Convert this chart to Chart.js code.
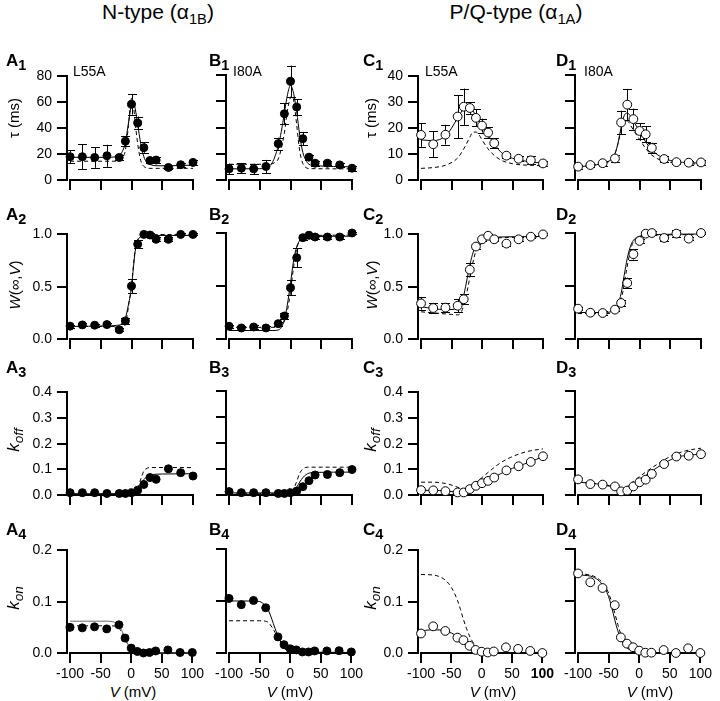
<!DOCTYPE html>
<html><head><meta charset="utf-8">
<script src="https://cdn.jsdelivr.net/npm/chart.js@4.4.0/dist/chart.umd.min.js"></script>
<style>
body{margin:0;background:#fff;width:720px;height:701px;position:relative;overflow:hidden;font-family:"Liberation Sans",Arial,sans-serif;color:#000}
canvas{position:absolute}
.t{position:absolute;line-height:1;white-space:nowrap}
.t sub{line-height:0}
</style></head><body>
<script>
// ---------- data ----------
const V_N  = [-100,-80,-60,-40,-20,-10,0,10,20,30,40,60,80,100];
const V_PQ = [-100,-80,-60,-40,-30,-20,-10,0,10,20,40,60,80,100];
const X_TICKS = [-100,-50,0,50,100];

// Row 1: tau (ms)
const A1_tau = [18,18,17.4,18.7,17.4,30,58.5,44,25,15,15.4,9.7,11.8,13.6];
const A1_err = [5,9.5,8,8.5,2,4,8,5,4,2,2,1,1.5,2];
const A1_fit = [[-100,17.5],[-40,17.5],[-25,18],[-15,22],[-10,29],[-5,44],[0,58],[3,60],[6,55],[10,43],[15,28],[20,18],[25,13.5],[30,12],[40,11],[60,11],[100,11.5]];
const A1_dash = [[-100,14.5],[-30,14.5],[-20,15],[-15,17],[-10,23],[-5,42],[-2,58],[0,63],[3,58],[6,44],[10,28],[15,15],[20,10.5],[30,9],[100,9]];

const B1_tau = [8.5,9,8.5,10.3,27.7,50.5,75.2,55.6,31.5,17.4,12.8,12.8,11.5,9];
const B1_err = [4,4,4,5,4.5,8,12,6,5,2,2,1.5,1.5,2];
const B1_fit = [[-100,8.5],[-50,8.6],[-40,9.5],[-30,13],[-20,26],[-15,37],[-10,51],[-5,65],[0,72],[5,66],[10,52],[15,34],[20,21],[25,15],[30,12],[40,11],[100,10]];
const B1_dash = [[-100,12],[-35,12],[-25,13.5],[-20,16],[-15,24],[-10,36],[-5,53],[0,63],[3,64],[6,58],[10,42],[15,22],[20,12.5],[25,9.5],[30,8.7],[100,8.5]];

const C1_tau = [17.4,13.8,17.5,24.5,28.3,27.8,24,21,18.3,14.2,9.4,8.2,7.6,6.4];
const C1_err = [4.6,5,3.8,8.3,7,2.3,3.3,2.7,2,2,1,1,1.5,1];
const C1_fit = [[-100,15.5],[-80,15.2],[-70,15.6],[-60,17],[-50,20],[-40,24],[-30,27.5],[-25,28.5],[-20,28],[-10,25],[0,21],[10,17.3],[20,14],[30,11],[40,9.3],[60,7.8],[80,7],[100,6.5]];
const C1_dash = [[-100,4.5],[-80,4.8],[-60,5.7],[-40,8.5],[-30,12],[-20,16.5],[-15,18.5],[-10,18.5],[-5,17.5],[0,15.5],[10,12],[20,9.5],[30,7.8],[50,6.3],[100,5.5]];

const D1_tau = [5.1,5.7,6.4,8.2,21.9,28.7,23.2,18.7,17.4,12.2,8,6.8,6.6,6.7];
const D1_err = [0.8,0.8,1,1.5,4.5,6,4,3,3,2,1,0.8,0.8,0.8];
const D1_fit = [[-100,5],[-80,5.5],[-60,6.3],[-50,7.2],[-45,8],[-40,10],[-35,14],[-30,20],[-25,24.5],[-20,25.5],[-15,24.5],[-10,22.5],[0,18.5],[10,14.5],[20,11.5],[30,9.5],[40,8.2],[60,7],[80,6.6],[100,6.5]];
const D1_dash = [[-100,5],[-80,5.5],[-60,6.2],[-50,7],[-45,8],[-40,10],[-35,14],[-30,19],[-25,22],[-20,22.5],[-15,21],[-10,19],[0,15.5],[10,12],[20,9.5],[30,8],[40,7.2],[60,6.5],[100,6]];

// Row 2: W(inf,V)
const A2_w = [0.123,0.135,0.132,0.138,0.088,0.173,0.506,0.906,1.0,0.994,0.953,0.953,1.0,1.0];
const A2_err = [0.015,0.015,0.015,0.015,0.015,0.03,0.07,0.04,0.015,0.015,0.02,0.02,0.01,0.01];
const A2_fit = [[-100,0.12],[-40,0.125],[-25,0.13],[-15,0.15],[-10,0.2],[-5,0.33],[0,0.5],[3,0.68],[6,0.84],[10,0.94],[15,0.98],[20,0.99],[100,0.99]];
const A2_dash = [[-100,0.12],[-30,0.12],[-20,0.1],[-12,0.12],[-8,0.2],[-4,0.35],[0,0.5],[3,0.7],[6,0.86],[10,0.95],[15,0.985],[20,0.995],[100,1.0]];

const B2_w = [0.12,0.104,0.113,0.104,0.145,0.217,0.484,0.767,0.956,0.978,0.962,0.962,0.962,1.0];
const B2_err = [0.015,0.015,0.02,0.02,0.02,0.03,0.07,0.09,0.02,0.015,0.015,0.015,0.015,0.01];
const B2_fit = [[-100,0.08],[-30,0.08],[-20,0.085],[-15,0.11],[-10,0.18],[-5,0.33],[0,0.53],[5,0.74],[10,0.87],[15,0.93],[20,0.955],[30,0.965],[100,0.97]];
const B2_dash = [[-100,0.11],[-30,0.11],[-20,0.115],[-15,0.13],[-10,0.17],[-5,0.27],[0,0.45],[5,0.68],[10,0.85],[15,0.93],[20,0.965],[30,0.975],[100,0.98]];

const C2_w = [0.34,0.296,0.30,0.318,0.38,0.663,0.884,0.953,0.987,0.953,0.912,0.953,0.978,1.0];
const C2_err = [0.06,0.05,0.04,0.06,0.05,0.06,0.02,0.02,0.015,0.02,0.02,0.02,0.015,0.01];
const C2_fit = [[-100,0.31],[-80,0.29],[-60,0.28],[-45,0.285],[-38,0.31],[-32,0.37],[-27,0.5],[-22,0.65],[-17,0.78],[-12,0.87],[-6,0.93],[0,0.955],[10,0.97],[100,0.98]];
const C2_dash = [[-100,0.26],[-70,0.245],[-50,0.235],[-40,0.23],[-34,0.26],[-28,0.36],[-23,0.5],[-18,0.65],[-13,0.78],[-8,0.88],[-2,0.93],[5,0.955],[20,0.965],[100,0.975]];

const D2_w = [0.286,0.248,0.245,0.277,0.34,0.528,0.8,0.925,0.994,1.0,0.953,0.994,0.947,1.0];
const D2_err = [0.015,0.015,0.015,0.015,0.03,0.05,0.05,0.02,0.015,0.015,0.03,0.03,0.015,0.01];
const D2_fit = [[-100,0.25],[-60,0.25],[-45,0.26],[-40,0.28],[-35,0.33],[-30,0.43],[-25,0.6],[-20,0.76],[-15,0.87],[-10,0.93],[0,0.97],[20,0.985],[100,0.99]];
const D2_dash = [[-100,0.24],[-60,0.24],[-45,0.245],[-38,0.27],[-32,0.33],[-27,0.45],[-22,0.62],[-17,0.78],[-12,0.89],[-6,0.94],[5,0.97],[20,0.98],[100,0.985]];

// Row 3: k_off
const A3_k = [0.009,0.009,0.009,0.006,0.006,0.006,0.009,0.019,0.041,0.068,0.061,0.102,0.087,0.074];
const A3_fit = [[-100,0.005],[-10,0.005],[0,0.007],[5,0.012],[10,0.024],[15,0.043],[20,0.06],[25,0.071],[30,0.077],[40,0.081],[60,0.082],[100,0.083]];
const A3_dash = [[-100,0.003],[0,0.004],[5,0.008],[10,0.025],[15,0.062],[20,0.093],[25,0.104],[30,0.107],[100,0.107]];

const B3_k = [0.013,0.009,0.009,0.009,0.006,0.006,0.009,0.015,0.032,0.055,0.077,0.079,0.086,0.098];
const B3_fit = [[-100,0.008],[-10,0.008],[0,0.01],[5,0.016],[10,0.03],[15,0.05],[20,0.067],[25,0.078],[30,0.084],[40,0.087],[100,0.088]];
const B3_dash = [[-100,0.005],[-5,0.005],[0,0.008],[5,0.022],[10,0.052],[15,0.084],[20,0.1],[25,0.106],[30,0.107],[100,0.107]];

const C3_k = [0.019,0.018,0.015,0.01,0.01,0.023,0.036,0.046,0.055,0.068,0.096,0.112,0.129,0.151];
const C3_fit = [[-100,0.018],[-80,0.018],[-60,0.016],[-45,0.012],[-35,0.01],[-28,0.012],[-20,0.02],[-10,0.033],[0,0.045],[10,0.057],[20,0.07],[40,0.094],[60,0.113],[80,0.13],[100,0.15]];
const C3_dash = [[-100,0.05],[-80,0.05],[-60,0.045],[-45,0.035],[-35,0.026],[-28,0.024],[-20,0.03],[-10,0.048],[0,0.068],[10,0.088],[30,0.125],[50,0.15],[75,0.17],[100,0.18]];

const D3_k = [0.06,0.042,0.04,0.033,0.014,0.017,0.033,0.049,0.059,0.081,0.119,0.148,0.151,0.157];
const D3_fit = [[-100,0.05],[-80,0.045],[-60,0.04],[-45,0.033],[-38,0.022],[-32,0.016],[-25,0.02],[-15,0.034],[-5,0.05],[5,0.066],[20,0.092],[40,0.122],[60,0.145],[80,0.153],[100,0.157]];
const D3_dash = [[-100,0.05],[-80,0.046],[-60,0.04],[-45,0.03],[-38,0.021],[-32,0.018],[-25,0.024],[-15,0.042],[-5,0.062],[10,0.088],[30,0.12],[50,0.148],[75,0.17],[100,0.18]];

// Row 4: k_on
const A4_k = [0.05,0.049,0.051,0.047,0.055,0.029,0.0096,0.003,0.0,0.001,0.004,0.006,0.001,0.001];
const A4_fit = [[-100,0.062],[-40,0.062],[-30,0.061],[-25,0.058],[-20,0.052],[-15,0.043],[-10,0.03],[-5,0.016],[0,0.007],[5,0.003],[10,0.001],[100,0.0]];
const A4_dash = [[-100,0.053],[-35,0.053],[-25,0.052],[-20,0.048],[-15,0.04],[-10,0.028],[-5,0.015],[0,0.006],[5,0.002],[10,0.001],[100,0.0]];

const B4_k = [0.105,0.093,0.101,0.087,0.031,0.016,0.008,0.006,0.002,0.002,0.004,0.004,0.0045,0.002];
const B4_fit = [[-100,0.1],[-60,0.1],[-50,0.099],[-45,0.096],[-40,0.09],[-35,0.08],[-30,0.065],[-25,0.048],[-20,0.033],[-15,0.02],[-10,0.011],[-5,0.006],[0,0.004],[10,0.002],[100,0.001]];
const B4_dash = [[-100,0.062],[-50,0.062],[-40,0.061],[-35,0.058],[-30,0.05],[-25,0.04],[-20,0.028],[-15,0.017],[-10,0.009],[0,0.003],[100,0.001]];

const C4_k = [0.038,0.052,0.043,0.03,0.025,0.014,0.006,0.0025,0.001,0.003,0.011,0.008,0.004,0.0];
const C4_fit = [[-100,0.043],[-85,0.045],[-70,0.045],[-60,0.043],[-50,0.039],[-40,0.032],[-30,0.022],[-20,0.012],[-10,0.005],[0,0.002],[20,0.0005],[100,0.0]];
const C4_dash = [[-100,0.153],[-80,0.152],[-70,0.149],[-60,0.142],[-50,0.128],[-40,0.103],[-35,0.085],[-30,0.065],[-25,0.048],[-20,0.033],[-15,0.022],[-10,0.014],[0,0.005],[20,0.001],[100,0.0]];

const D4_k = [0.153,0.136,0.125,0.092,0.03,0.018,0.011,0.0045,0.0006,0.0006,0.0057,0.0,0.009,0.0];
const D4_fit = [[-100,0.15],[-85,0.149],[-75,0.146],[-65,0.138],[-55,0.122],[-50,0.108],[-45,0.088],[-40,0.064],[-35,0.043],[-30,0.027],[-25,0.017],[-20,0.01],[-10,0.004],[0,0.0015],[20,0.0003],[100,0]];
const D4_dash = [[-100,0.152],[-85,0.151],[-75,0.148],[-65,0.141],[-55,0.127],[-50,0.115],[-45,0.098],[-40,0.077],[-35,0.055],[-30,0.036],[-25,0.023],[-20,0.014],[-10,0.005],[0,0.002],[20,0.0004],[100,0]];

// y-axis ticks
const Y_TAU_N  = [0,20,40,60,80];
const Y_TAU_PQ = [0,10,20,30,40];
const Y_W      = [0,0.5,1.0];
const Y_KOFF   = [0,0.1,0.2,0.3,0.4];
const Y_KON    = [0,0.1,0.2];

// ---------- layout ----------
const FONT = '"Liberation Sans", Arial, sans-serif';
const cols = {A:{L:67,R:193}, B:{L:226,R:352}, C:{L:418,R:543}, D:{L:575,R:701}};
const rows = [{T:75,B:180},{T:233,B:339},{T:391,B:495},{T:549,B:653}];

const panels = [
 {col:'A',row:0,V:V_N,y:A1_tau,err:A1_err,fit:A1_fit,dash:A1_dash,ticks:Y_TAU_N,open:false},
 {col:'B',row:0,V:V_N,y:B1_tau,err:B1_err,fit:B1_fit,dash:B1_dash,ticks:Y_TAU_N,open:false},
 {col:'C',row:0,V:V_PQ,y:C1_tau,err:C1_err,fit:C1_fit,dash:C1_dash,ticks:Y_TAU_PQ,open:true},
 {col:'D',row:0,V:V_PQ,y:D1_tau,err:D1_err,fit:D1_fit,dash:D1_dash,ticks:Y_TAU_PQ,open:true},
 {col:'A',row:1,V:V_N,y:A2_w,err:A2_err,fit:A2_fit,dash:A2_dash,ticks:Y_W,open:false},
 {col:'B',row:1,V:V_N,y:B2_w,err:B2_err,fit:B2_fit,dash:B2_dash,ticks:Y_W,open:false},
 {col:'C',row:1,V:V_PQ,y:C2_w,err:C2_err,fit:C2_fit,dash:C2_dash,ticks:Y_W,open:true},
 {col:'D',row:1,V:V_PQ,y:D2_w,err:D2_err,fit:D2_fit,dash:D2_dash,ticks:Y_W,open:true},
 {col:'A',row:2,V:V_N,y:A3_k,fit:A3_fit,dash:A3_dash,ticks:Y_KOFF,open:false},
 {col:'B',row:2,V:V_N,y:B3_k,fit:B3_fit,dash:B3_dash,ticks:Y_KOFF,open:false},
 {col:'C',row:2,V:V_PQ,y:C3_k,fit:C3_fit,dash:C3_dash,ticks:Y_KOFF,open:true},
 {col:'D',row:2,V:V_PQ,y:D3_k,fit:D3_fit,dash:D3_dash,ticks:Y_KOFF,open:true},
 {col:'A',row:3,V:V_N,y:A4_k,fit:A4_fit,dash:A4_dash,ticks:Y_KON,open:false,fitColor:'#6a6a6a'},
 {col:'B',row:3,V:V_N,y:B4_k,fit:B4_fit,dash:B4_dash,ticks:Y_KON,open:false},
 {col:'C',row:3,V:V_PQ,y:C4_k,fit:C4_fit,dash:C4_dash,ticks:Y_KON,open:true,boldLast:true},
 {col:'D',row:3,V:V_PQ,y:D4_k,fit:D4_fit,dash:D4_dash,ticks:Y_KON,open:true}
];

const errPlugin = {
  id:'errbars',
  beforeDatasetsDraw(chart, args, opts){
    const err = opts.err; if(!err) return;
    const meta = chart.getDatasetMeta(2), ys = chart.scales.y, ctx = chart.ctx;
    const vals = chart.data.datasets[2].data;
    ctx.save(); ctx.strokeStyle = '#000'; ctx.lineWidth = 1;
    meta.data.forEach((pt,i)=>{
      const e = err[i]; if(!e) return;
      const x = Math.round(pt.x)+0.5, y1 = ys.getPixelForValue(vals[i].y+e), y2 = ys.getPixelForValue(vals[i].y-e);
      ctx.beginPath();
      ctx.moveTo(x,y1); ctx.lineTo(x,y2);
      ctx.moveTo(x-4.5,Math.round(y1)+0.5); ctx.lineTo(x+4.5,Math.round(y1)+0.5);
      ctx.moveTo(x-4.5,Math.round(y2)+0.5); ctx.lineTo(x+4.5,Math.round(y2)+0.5);
      ctx.stroke();
    });
    ctx.restore();
  }
};
const xLinePlugin = {
  id:'xline',
  beforeDatasetsDraw(chart){
    const xs = chart.scales.x, ctx = chart.ctx, y = chart.chartArea.bottom;
    ctx.save(); ctx.strokeStyle='#000'; ctx.lineWidth=2;
    ctx.beginPath(); ctx.moveTo(xs.getPixelForValue(X_TICKS[0])-1,y); ctx.lineTo(xs.getPixelForValue(X_TICKS[X_TICKS.length-1])+1,y); ctx.stroke();
    ctx.restore();
  }
};

function makePanel(p){
  const c = cols[p.col], r = rows[p.row];
  const yw = 60, pt = 12, pr = 14, xh = 30;
  const w = (c.R - c.L) + yw + pr, h = (r.B - r.T) + pt + xh;
  const cv = document.createElement('canvas');
  cv.width = w; cv.height = h;
  cv.style.left = (c.L - yw) + 'px'; cv.style.top = (r.T - pt) + 'px';
  cv.style.width = w + 'px'; cv.style.height = h + 'px';
  document.body.appendChild(cv);
  const yLab = (p.col==='A' || p.col==='C');
  const xLab = (p.row===3);
  const ymax = p.ticks[p.ticks.length-1];
  const grid = {display:true, drawOnChartArea:false, drawTicks:true, tickLength:10, color:'#000', lineWidth:2};
  new Chart(cv, {
    type:'scatter',
    data:{datasets:[
      {data:p.dash.map(([x,y])=>({x,y})), showLine:true, borderColor:'#000', borderWidth:1, borderDash:[4,3], pointRadius:0, cubicInterpolationMode:'monotone', clip:false, order:3},
      {data:p.fit.map(([x,y])=>({x,y})), showLine:true, borderColor:p.fitColor||'#000', borderWidth:1, pointRadius:0, cubicInterpolationMode:'monotone', clip:false, order:2},
      {data:p.V.map((x,i)=>({x,y:p.y[i]})), showLine:false, pointRadius:p.open?4.4:4, pointBorderWidth:1,
       pointBackgroundColor:p.open?'#fff':'#000', pointBorderColor:'#000', clip:false, order:1}
    ]},
    options:{
      responsive:false, animation:false, devicePixelRatio:1, events:[],
      layout:{padding:{left:0, top:pt, right:pr, bottom:0}},
      plugins:{legend:{display:false}, tooltip:{enabled:false}, errbars:{err:p.err||null}},
      scales:{
        x:{type:'linear', min:-105, max:100,
           afterBuildTicks:s=>{s.ticks = X_TICKS.map(v=>({value:v}));},
           afterFit:s=>{s.height = xh;},
           border:{display:false}, grid:grid,
           ticks:{display:xLab, color:'#000', padding:3, maxRotation:0, autoSkip:false, callback:v=>String(v),
                  font:ctx=>({family:FONT, size:14, weight:(p.boldLast && ctx.tick && ctx.tick.value===100)?'bold':'normal'})}},
        y:{type:'linear', min:0, max:ymax,
           afterBuildTicks:s=>{s.ticks = p.ticks.map(v=>({value:v}));},
           afterFit:s=>{s.width = yw;},
           border:{display:true, color:'#000', width:2}, grid:grid,
           ticks:{display:yLab, color:'#000', font:{family:FONT,size:14}, padding:5, autoSkip:false,
                  callback:v=> p.row===0 ? String(v) : Number(v).toFixed(1)}}
      }
    },
    plugins:[errPlugin, xLinePlugin]
  });
}
panels.forEach(makePanel);

// ---------- text ----------
function txt(html, x, base, size, o={}){
  const d = document.createElement('div');
  d.className = 't'; d.innerHTML = html;
  d.style.fontSize = size + 'px';
  if(o.bold) d.style.fontWeight = 'bold';
  d.style.top = (base - 0.8465*size) + 'px';
  d.style.left = x + 'px';
  if(o.center) d.style.transform = 'translateX(-50%)';
  document.body.appendChild(d);
}
function vtxt(html, cx, cy, size){
  const d = document.createElement('div');
  d.className = 't'; d.innerHTML = html;
  d.style.fontSize = size + 'px';
  d.style.left = cx + 'px'; d.style.top = cy + 'px';
  d.style.transform = 'translate(-50%,-50%) rotate(-90deg)';
  document.body.appendChild(d);
}
const SUBH = 'font-size:0.7em;vertical-align:-0.35em';
txt('N-type (&alpha;<sub style="'+SUBH+'">1B</sub>)', 158, 19, 21, {center:true});
txt('P/Q-type (&alpha;<sub style="'+SUBH+'">1A</sub>)', 516, 19, 21, {center:true});

const labX = {A:6, B:209, C:363, D:556};
const labBase = [66.5, 220, 373, 535];
['A','B','C','D'].forEach(cl=>{
  labBase.forEach((b,i)=>{
    txt(cl+'<sub style="font-size:0.85em;vertical-align:-0.3em">'+(i+1)+'</sub>', labX[cl], b, 17, {bold:true});
  });
});
txt('L55A', 73, 76, 14); txt('I80A', 233, 76, 14);
txt('L55A', 425, 76, 14); txt('I80A', 584, 76, 14);

[13,370].forEach(x=>{
  vtxt('&tau; (ms)', x, 118, 15);
  vtxt('<i>W</i>(&infin;,<i>V</i>)', x+1, 285, 15);
  vtxt('<i>k<sub style="font-size:0.8em;vertical-align:-0.3em">off</sub></i>', x, 440, 17);
  vtxt('<i>k<sub style="font-size:0.8em;vertical-align:-0.3em">on</sub></i>', x, 598, 17);
});
[133,290,493,650].forEach(cx=>txt('<i>V</i> (mV)', cx, 697, 15, {center:true}));
</script>
</body></html>
